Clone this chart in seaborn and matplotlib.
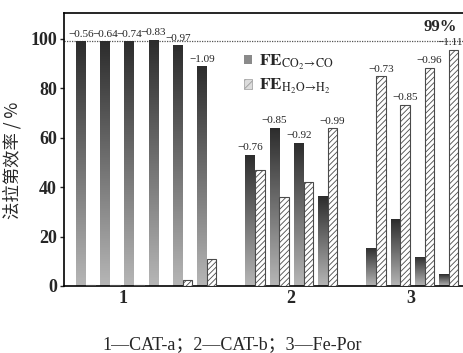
import numpy as np
import pandas as pd
import matplotlib
matplotlib.use("Agg")
import matplotlib.pyplot as plt
from matplotlib.patches import Patch
from matplotlib.colors import LinearSegmentedColormap
import seaborn as sns

# ---------------- data ----------------
groups = ["1", "2", "3"]
group_sizes = [6, 4, 4]
potentials = ["−0.56", "−0.64", "−0.74", "−0.83", "−0.97", "−1.09",
              "−0.76", "−0.85", "−0.92", "−0.99",
              "−0.73", "−0.85", "−0.96", "−1.11"]
fe_co = [99.0, 99.0, 99.0, 99.6, 97.4, 89.0,
         53.2, 64.0, 58.0, 36.4,
         15.5, 27.0, 11.8, 4.7]
fe_h2 = [0.4, 0.4, 0.4, 0.0, 2.6, 10.9,
         47.0, 36.2, 42.2, 63.8,
         85.0, 73.3, 88.3, 95.6]
series_names = ["FE_CO", "FE_H2"]
legend_labels = [r"$\mathbf{FE}_{\mathrm{CO_2\!\rightarrow\!CO}}$",
                 r"$\mathbf{FE}_{\mathrm{H_2O\!\rightarrow\!H_2}}$"]
selectivity_line = 99
ylabel = "法拉第效率 / %"
caption = "1—CAT-a；2—CAT-b；3—Fe-Por"

# ---------------- layout ----------------
slots = []
start = 0
for n in group_sizes:
    slots += list(range(start, start + n))
    start += n + 1
tick_pos = [1.55, 8.45, 13.45]

df = pd.DataFrame({
    "slot": slots * 2,
    "FE": fe_co + fe_h2,
    "kind": [series_names[0]] * len(slots) + [series_names[1]] * len(slots),
})

sns.set_theme(style="white")
plt.rcParams["font.family"] = ["Liberation Serif", "Noto Sans CJK SC"]
plt.rcParams["mathtext.fontset"] = "stix"
plt.rcParams["hatch.linewidth"] = 0.6

fig = plt.figure(figsize=(4.64, 3.53), dpi=100)
W, H = 464, 353
ax_left, ax_bottom, ax_top = 64, 286, 13
xmin, xmax = -0.9, 15.9
px_per_slot = 24.2
ax_w = (xmax - xmin) * px_per_slot
ax_h = ax_bottom - ax_top
ax = fig.add_axes([ax_left / W, (H - ax_bottom) / H, ax_w / W, ax_h / H])

sns.barplot(data=df, x="slot", y="FE", hue="kind", hue_order=series_names,
            native_scale=True, dodge=True, width=0.8, errorbar=None,
            legend=False, ax=ax)

cmap = LinearSegmentedColormap.from_list("g", ["#b6b6b6", "#2c2c2c"])
grad = np.linspace(0, 1, 256).reshape(-1, 1)

conts = ax.containers
co_bars = list(conts[0])
h2_bars = list(conts[1])
for p in co_bars:
    x0, w, h = p.get_x(), p.get_width(), p.get_height()
    p.set_facecolor("none")
    p.set_edgecolor("none")
    if h > 0:
        im = ax.imshow(grad, cmap=cmap, origin="lower", aspect="auto",
                       extent=[x0, x0 + w, 0, h], zorder=2)
        im.set_clip_path(p)
for p in h2_bars:
    p.set_facecolor("white")
    p.set_edgecolor("#4a4a4a")
    p.set_linewidth(0.8)
    p.set_hatch("//////")
    p.set_zorder(3)

# potential labels over the taller bar in each pair
n = len(slots)
for i in range(n):
    pc, ph = co_bars[i], h2_bars[i]
    top = pc if pc.get_height() >= ph.get_height() else ph
    xc = top.get_x() + top.get_width() / 2
    ha = "center"
    if i == n - 1:
        # keep inside the figure edge
        xc = xmin + (463 - ax_left) / px_per_slot
        ha = "right"
    ax.text(xc, top.get_height() + 1.0, potentials[i], ha=ha, va="bottom",
            fontsize=8, family="Liberation Serif", clip_on=False)

ax.axhline(selectivity_line, ls=(0, (1, 1)), color="#555555", lw=0.9, zorder=1)
ax.text((457 - ax_left) / ax_w, (ax_bottom - 19) / ax_h, f"{selectivity_line}%",
        transform=ax.transAxes, ha="right", va="top", fontsize=12, fontweight="bold")

ax.set_xlim(xmin, xmax)
ax.set_ylim(0, 110.5)
ax.set_yticks([0, 20, 40, 60, 80, 100])
ax.set_xticks(tick_pos)
ax.set_xticklabels(groups)
ax.set_xlabel("")
ax.set_ylabel(ylabel, fontsize=12.5, family=["Noto Sans CJK SC", "DejaVu Sans"])
ax.yaxis.set_label_coords((21 - ax_left) / ax_w, 0.46)
for lab in ax.get_yticklabels() + ax.get_xticklabels():
    lab.set_fontweight("bold")
    lab.set_fontsize(13)
ax.tick_params(axis="y", direction="out", length=3, width=1, pad=2, left=True)
ax.tick_params(axis="x", length=0, pad=3)
for s in ["left", "bottom", "top", "right"]:
    ax.spines[s].set_color("black")
    ax.spines[s].set_linewidth(1.2)

handles = [Patch(facecolor="#8a8a8a", edgecolor="none"),
           Patch(facecolor="#dcdcdc", edgecolor="#9a9a9a", hatch="////", linewidth=0.5)]
leg = ax.legend(handles, legend_labels, loc="upper left",
                bbox_to_anchor=((244 - ax_left) / ax_w, (ax_bottom - 53) / ax_h),
                frameon=False, fontsize=12.5, handlelength=0.45, handleheight=0.45,
                handletextpad=0.4, labelspacing=0.3, borderpad=0, borderaxespad=0)

fig.text(0.5, (H - 345) / H, caption, ha="center", va="center", fontsize=13,
         family=["Liberation Serif", "Noto Sans CJK SC"])

fig.savefig("out.png", dpi=100)
